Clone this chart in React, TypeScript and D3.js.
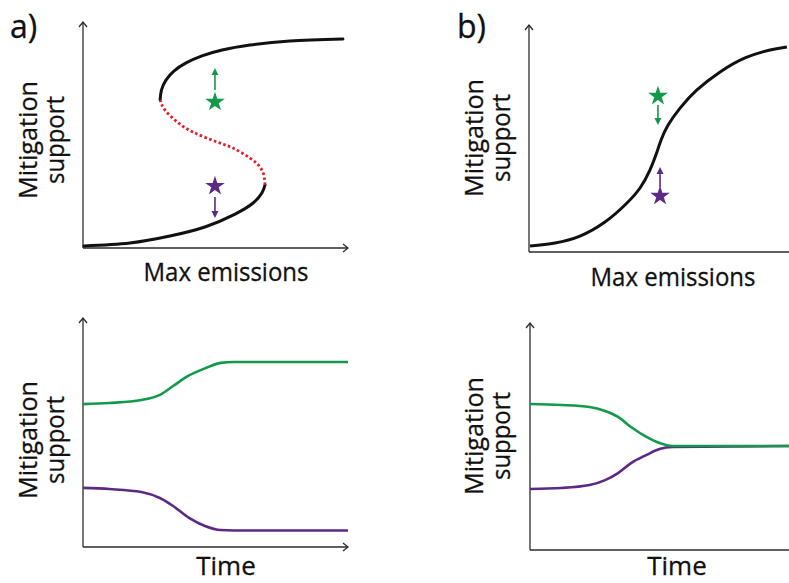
import React from 'react';
import * as d3 from 'd3';

// ---------- DATA (normalised units 0..100 on each panel) ----------
// Panel a) bistable fold curve (lower stable, unstable, upper stable branches)
const FOLD_LOW_X = [0.4, 17.7, 32.8, 46.0, 57.4, 64.2, 67.5, 68.7];
const FOLD_LOW_Y = [0.9, 2.2, 5.3, 9.3, 15.0, 19.9, 24.3, 27.9];
const FOLD_MID_X = [68.7, 67.5, 63.0, 56.6, 50.6, 41.5, 35.5, 30.9, 29.1];
const FOLD_MID_Y = [27.9, 34.5, 39.8, 44.2, 46.9, 51.3, 55.8, 61.1, 65.5];
const FOLD_HIGH_X = [29.1, 29.6, 31.3, 34.3, 38.9, 44.9, 52.5, 63.0, 78.1, 98.1];
const FOLD_HIGH_Y = [65.5, 69.9, 74.3, 78.3, 81.9, 85.0, 87.6, 89.8, 91.6, 92.5];

// Panel b) smooth monostable curve
const SMOOTH_X = [0.4, 10.0, 19.6, 29.2, 36.9, 42.7, 46.5, 48.8, 50.8, 53.5, 58.1, 64.6, 73.5, 83.1, 92.7, 99.2];
const SMOOTH_Y = [2.6, 4.0, 7.0, 13.2, 20.7, 28.2, 36.1, 42.7, 49.3, 55.9, 63.4, 71.4, 79.3, 85.5, 89.0, 90.3];

// Stars (state) and arrows (direction of change): [x, y, arrowFrom, arrowTo]
const STARS_A_HIGH = [49.8, 64.6, 69.9, 79.6];
const STARS_A_LOW = [49.8, 27.4, 22.6, 13.3];
const STARS_B_HIGH = [49.6, 68.7, 64.8, 55.9];
const STARS_B_LOW = [50.4, 24.7, 28.6, 37.4];

// Time series
const TIME_A = [0, 10, 22, 29, 34, 40, 46, 52, 57, 100];
const HIGH_A = [62.4, 62.9, 64.2, 66.4, 70.3, 74.9, 78.0, 80.4, 80.8, 80.8];
const LOW_A = [25.8, 25.3, 24.0, 21.4, 17.9, 12.7, 9.2, 7.4, 7.2, 7.2];
const TIME_B = [0, 12, 23, 29, 34, 39, 45, 50, 55, 100];
const HIGH_B = [64.3, 63.9, 63.0, 61.2, 58.6, 54.2, 49.8, 47.1, 45.8, 45.8];
const LOW_B = [26.9, 27.3, 28.6, 30.8, 33.9, 38.3, 41.9, 44.5, 45.4, 45.8];

const PANEL_LETTERS = ['a)', 'b)'];
const Y_LABEL = ['Mitigation', 'support'];
const X_LABEL_TOP = 'Max emissions';
const X_LABEL_BOTTOM = 'Time';

// ---------- STYLE ----------
const GREEN = '#12994a';
const PURPLE = '#5c2a85';
const RED = '#e5202a';
const BLACK = '#111111';
const AXIS = '#2b2b2b';
const FONT = '"Open Sans", "Noto Sans", sans-serif';

type Box = { x0: number; x1: number; y0: number; y1: number; xArrow: boolean; xEnd: number };

const boxes: Record<string, Box> = {
  aTop: { x0: 83, x1: 348, y0: 248, y1: 22, xArrow: true, xEnd: 348 },
  bTop: { x0: 529, x1: 789, y0: 252, y1: 25, xArrow: false, xEnd: 789 },
  aBot: { x0: 83, x1: 348, y0: 547, y1: 318, xArrow: true, xEnd: 348 },
  bBot: { x0: 530, x1: 789, y0: 550, y1: 323, xArrow: false, xEnd: 789 },
};

function scales(b: Box) {
  const x = d3.scaleLinear().domain([0, 100]).range([b.x0, b.x1]);
  const y = d3.scaleLinear().domain([0, 100]).range([b.y0, b.y1]);
  return { x, y };
}

function zip(xs: number[], ys: number[]): [number, number][] {
  return xs.map((v, i) => [v, ys[i]]);
}

function Axes({ b }: { b: Box }) {
  const h = 5;
  return (
    <g stroke={AXIS} strokeWidth={1.3} fill="none">
      <line x1={b.x0} y1={b.y0} x2={b.x0} y2={b.y1} />
      <line x1={b.x0} y1={b.y0} x2={b.xEnd} y2={b.y0} />
      <path d={`M${b.x0 - 4},${b.y1 + h} L${b.x0},${b.y1} L${b.x0 + 4},${b.y1 + h}`} />
      {b.xArrow && (
        <path d={`M${b.xEnd - h},${b.y0 - 4} L${b.xEnd},${b.y0} L${b.xEnd - h},${b.y0 + 4}`} />
      )}
    </g>
  );
}

const textStyle = { fontFamily: FONT, fontSize: 26, fill: '#111', stroke: '#111', strokeWidth: 0.3 };

function YLabel({ x, cy }: { x: number; cy: number }) {
  return (
    <g {...textStyle} textAnchor="middle">
      <text transform={`translate(${x},${cy}) rotate(-90)`} textLength={118} lengthAdjust="spacingAndGlyphs">
        {Y_LABEL[0]}
      </text>
      <text transform={`translate(${x + 27},${cy}) rotate(-90)`} textLength={88} lengthAdjust="spacingAndGlyphs">
        {Y_LABEL[1]}
      </text>
    </g>
  );
}

function StarArrow({ s, sc, color }: { s: number[]; sc: ReturnType<typeof scales>; color: string }) {
  const [sx, sy, a0, a1] = s;
  const star = d3.symbol().type(d3.symbolStar).size(120)();
  const px = sc.x(sx);
  const yFrom = sc.y(a0);
  const yTo = sc.y(a1);
  const dir = yTo < yFrom ? -1 : 1;
  const head = 7;
  return (
    <g>
      <path d={star || ''} transform={`translate(${px},${sc.y(sy)})`} fill={color} />
      <line x1={px} y1={yFrom} x2={px} y2={yTo - dir * head} stroke={color} strokeWidth={1.6} />
      <path
        d={`M${px - 3.5},${yTo - dir * head} L${px},${yTo} L${px + 3.5},${yTo - dir * head} Z`}
        fill={color}
      />
    </g>
  );
}

export default function App() {
  const aT = scales(boxes.aTop);
  const bT = scales(boxes.bTop);
  const aB = scales(boxes.aBot);
  const bB = scales(boxes.bBot);

  const lineNat = (sc: ReturnType<typeof scales>) =>
    d3
      .line<[number, number]>()
      .x((d) => sc.x(d[0]))
      .y((d) => sc.y(d[1]))
      .curve(d3.curveNatural);
  const lineMono = (sc: ReturnType<typeof scales>) =>
    d3
      .line<[number, number]>()
      .x((d) => sc.x(d[0]))
      .y((d) => sc.y(d[1]))
      .curve(d3.curveMonotoneX);

  return (
    <svg
      width={789}
      height={583}
      viewBox="0 0 789 583"
      style={{ position: 'absolute', left: 0, top: 0, background: '#fff' }}
    >
      <rect width={789} height={583} fill="#fff" />
      {/* panel letters */}
      <text x={10} y={38} {...textStyle} fontSize={32}>{PANEL_LETTERS[0]}</text>
      <text x={457} y={38} {...textStyle} fontSize={32}>{PANEL_LETTERS[1]}</text>

      {/* axes */}
      <Axes b={boxes.aTop} />
      <Axes b={boxes.bTop} />
      <Axes b={boxes.aBot} />
      <Axes b={boxes.bBot} />

      {/* panel a top: fold */}
      <g fill="none" strokeLinecap="round">
        <path d={lineNat(aT)(zip(FOLD_LOW_X, FOLD_LOW_Y)) || ''} stroke={BLACK} strokeWidth={3} />
        <path d={lineNat(aT)(zip(FOLD_HIGH_X, FOLD_HIGH_Y)) || ''} stroke={BLACK} strokeWidth={3} />
        <path
          d={lineNat(aT)(zip(FOLD_MID_X, FOLD_MID_Y)) || ''}
          stroke={RED}
          strokeWidth={2.8}
          strokeLinecap="butt"
          strokeDasharray="2.6 2.4"
        />
      </g>
      <StarArrow s={STARS_A_HIGH} sc={aT} color={GREEN} />
      <StarArrow s={STARS_A_LOW} sc={aT} color={PURPLE} />

      {/* panel b top: smooth */}
      <path d={lineNat(bT)(zip(SMOOTH_X, SMOOTH_Y)) || ''} stroke={BLACK} strokeWidth={3} fill="none" />
      <StarArrow s={STARS_B_HIGH} sc={bT} color={GREEN} />
      <StarArrow s={STARS_B_LOW} sc={bT} color={PURPLE} />

      {/* bottom time series */}
      <g fill="none" strokeWidth={2.6}>
        <path d={lineMono(aB)(zip(TIME_A, HIGH_A)) || ''} stroke={GREEN} />
        <path d={lineMono(aB)(zip(TIME_A, LOW_A)) || ''} stroke={PURPLE} />
        <path d={lineMono(bB)(zip(TIME_B, LOW_B)) || ''} stroke={PURPLE} />
        <path d={lineMono(bB)(zip(TIME_B, HIGH_B)) || ''} stroke={GREEN} />
      </g>

      {/* labels */}
      <YLabel x={37} cy={140} />
      <YLabel x={483} cy={138} />
      <YLabel x={37} cy={440} />
      <YLabel x={483} cy={436} />
      <g {...textStyle} textAnchor="middle">
        <text x={226} y={281} textLength={165} lengthAdjust="spacingAndGlyphs">{X_LABEL_TOP}</text>
        <text x={673} y={286} textLength={165} lengthAdjust="spacingAndGlyphs">{X_LABEL_TOP}</text>
        <text x={226} y={575}>{X_LABEL_BOTTOM}</text>
        <text x={677} y={575}>{X_LABEL_BOTTOM}</text>
      </g>
    </svg>
  );
}
